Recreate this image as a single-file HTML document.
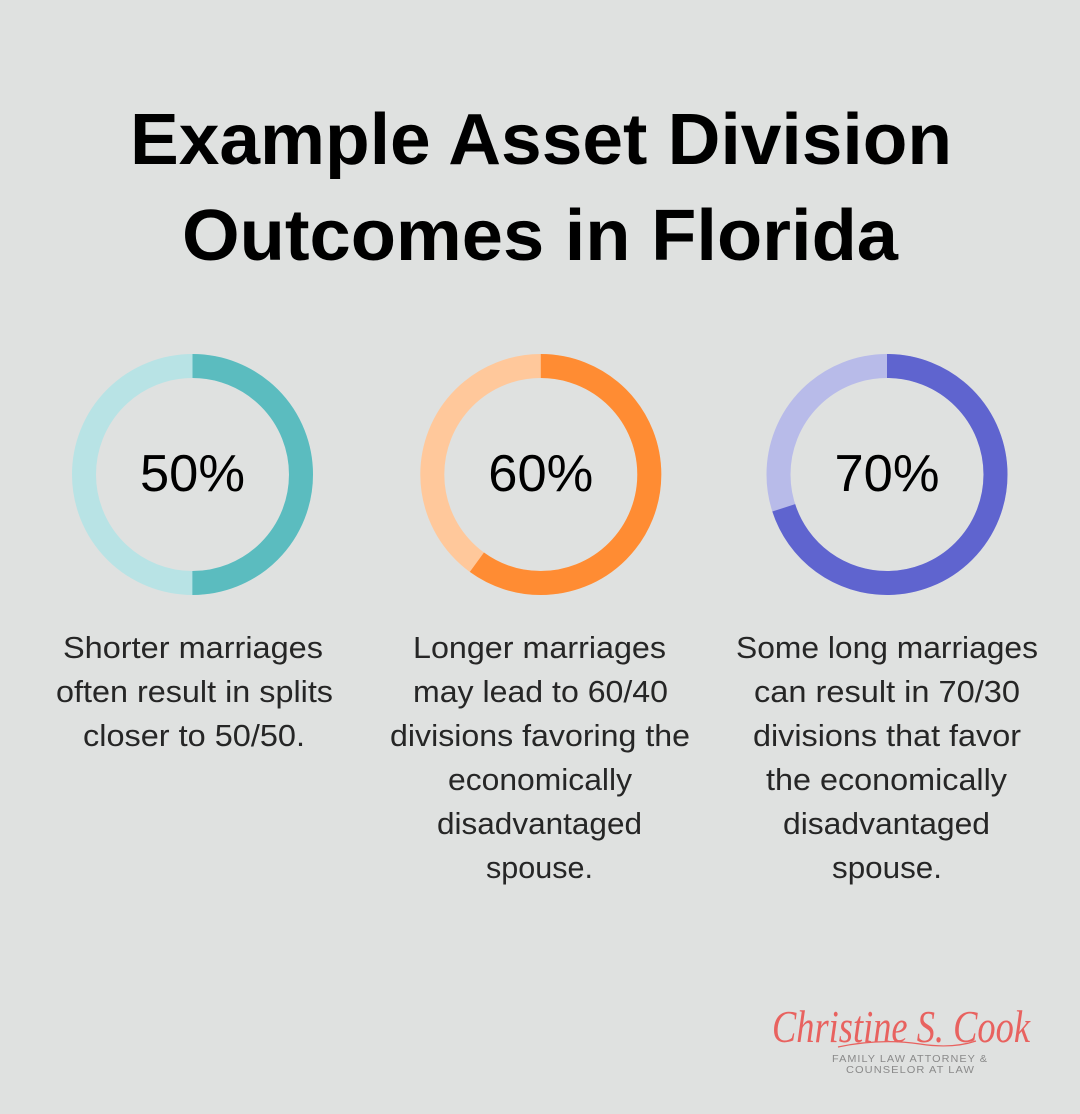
<!DOCTYPE html>
<html>
<head>
<meta charset="utf-8">
<style>
  html, body { margin:0; padding:0; background:#dfe1e0; }
  svg { display:block; }
  .title { font-family:"Liberation Sans", sans-serif; font-weight:bold; font-size:72px; fill:#000; }
  .pct { font-family:"Liberation Sans", sans-serif; font-size:52px; fill:#000; }
  .body { font-family:"Liberation Sans", sans-serif; font-size:31px; fill:#262626; }
  .logo { font-family:"Liberation Serif", serif; font-style:italic; font-size:46px; fill:#e8625f; }
  .sub { font-family:"Liberation Sans", sans-serif; font-size:10.5px; fill:#8a8a8a; letter-spacing:1px; }
</style>
</head>
<body>
<svg width="1080" height="1114" viewBox="0 0 1080 1114" xmlns="http://www.w3.org/2000/svg">
  <rect x="0" y="0" width="1080" height="1114" fill="#dfe1e0"/>

  <text class="title" x="541" y="164" text-anchor="middle" textLength="822" lengthAdjust="spacingAndGlyphs">Example Asset Division</text>
  <text class="title" x="540" y="260" text-anchor="middle" textLength="716" lengthAdjust="spacingAndGlyphs">Outcomes in Florida</text>

  <!-- Donut 1: 50% -->
  <circle cx="192.5" cy="474.5" r="108.5" fill="none" stroke="#b8e3e5" stroke-width="24"/>
  <circle cx="192.5" cy="474.5" r="108.5" fill="none" stroke="#5bbcbf" stroke-width="24"
          stroke-dasharray="340.85 681.7" transform="rotate(-90 192.5 474.5)"/>
  <text class="pct" x="192.5" y="491" text-anchor="middle" textLength="105" lengthAdjust="spacingAndGlyphs">50%</text>

  <!-- Donut 2: 60% -->
  <circle cx="540.8" cy="474.5" r="108.5" fill="none" stroke="#ffc89b" stroke-width="24"/>
  <circle cx="540.8" cy="474.5" r="108.5" fill="none" stroke="#ff8c33" stroke-width="24"
          stroke-dasharray="409.02 681.7" transform="rotate(-90 540.8 474.5)"/>
  <text class="pct" x="540.8" y="491" text-anchor="middle" textLength="105" lengthAdjust="spacingAndGlyphs">60%</text>

  <!-- Donut 3: 70% -->
  <circle cx="887" cy="474.5" r="108.5" fill="none" stroke="#b8bbe9" stroke-width="24"/>
  <circle cx="887" cy="474.5" r="108.5" fill="none" stroke="#5f64cf" stroke-width="24"
          stroke-dasharray="477.19 681.7" transform="rotate(-90 887 474.5)"/>
  <text class="pct" x="887" y="491" text-anchor="middle" textLength="105" lengthAdjust="spacingAndGlyphs">70%</text>

  <!-- Column 1 text -->
  <text class="body" x="193" y="658" text-anchor="middle" textLength="260" lengthAdjust="spacingAndGlyphs">Shorter marriages</text>
  <text class="body" x="194.5" y="702" text-anchor="middle" textLength="277" lengthAdjust="spacingAndGlyphs">often result in splits</text>
  <text class="body" x="194" y="746" text-anchor="middle" textLength="222" lengthAdjust="spacingAndGlyphs">closer to 50/50.</text>

  <!-- Column 2 text -->
  <text class="body" x="539.5" y="658" text-anchor="middle" textLength="253" lengthAdjust="spacingAndGlyphs">Longer marriages</text>
  <text class="body" x="540.5" y="702" text-anchor="middle" textLength="255" lengthAdjust="spacingAndGlyphs">may lead to 60/40</text>
  <text class="body" x="540" y="746" text-anchor="middle" textLength="300" lengthAdjust="spacingAndGlyphs">divisions favoring the</text>
  <text class="body" x="540" y="790" text-anchor="middle" textLength="184" lengthAdjust="spacingAndGlyphs">economically</text>
  <text class="body" x="539.5" y="834" text-anchor="middle" textLength="205" lengthAdjust="spacingAndGlyphs">disadvantaged</text>
  <text class="body" x="539.5" y="878" text-anchor="middle" textLength="107" lengthAdjust="spacingAndGlyphs">spouse.</text>

  <!-- Column 3 text -->
  <text class="body" x="887" y="658" text-anchor="middle" textLength="302" lengthAdjust="spacingAndGlyphs">Some long marriages</text>
  <text class="body" x="887" y="702" text-anchor="middle" textLength="266" lengthAdjust="spacingAndGlyphs">can result in 70/30</text>
  <text class="body" x="887" y="746" text-anchor="middle" textLength="268" lengthAdjust="spacingAndGlyphs">divisions that favor</text>
  <text class="body" x="886.5" y="790" text-anchor="middle" textLength="241" lengthAdjust="spacingAndGlyphs">the economically</text>
  <text class="body" x="886.5" y="834" text-anchor="middle" textLength="207" lengthAdjust="spacingAndGlyphs">disadvantaged</text>
  <text class="body" x="887" y="878" text-anchor="middle" textLength="110" lengthAdjust="spacingAndGlyphs">spouse.</text>

  <!-- Logo -->
  <text class="logo" x="772" y="1042" textLength="258" lengthAdjust="spacingAndGlyphs">Christine S. Cook</text>
  <path d="M 838 1047 Q 880 1038 920 1044 Q 952 1049 976 1041" fill="none" stroke="#e8625f" stroke-width="1.2"/>
  <text class="sub" x="910" y="1062" text-anchor="middle" textLength="156" lengthAdjust="spacingAndGlyphs">FAMILY LAW ATTORNEY &amp;</text>
  <text class="sub" x="910.5" y="1073" text-anchor="middle" textLength="129" lengthAdjust="spacingAndGlyphs">COUNSELOR AT LAW</text>
</svg>
</body>
</html>
